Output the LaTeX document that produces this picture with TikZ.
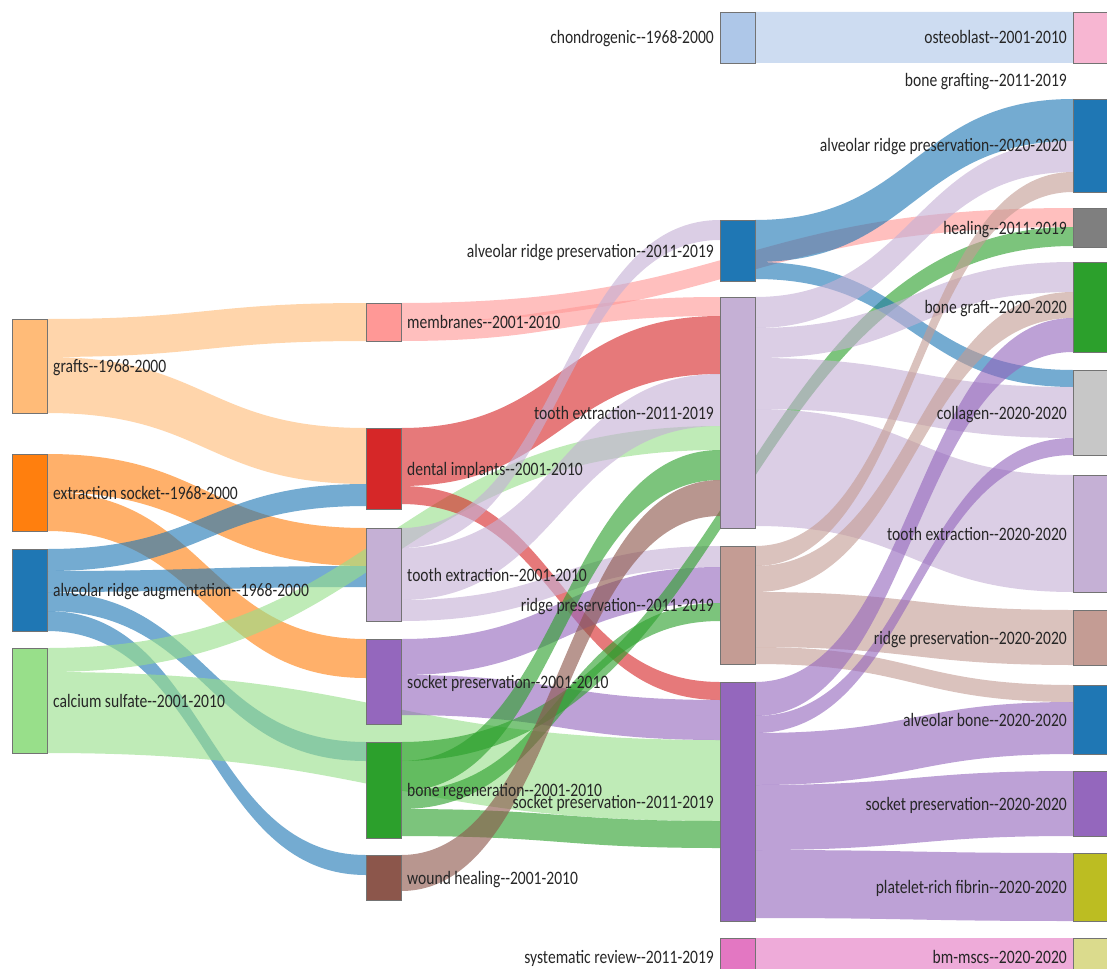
\documentclass[tikz,border=0pt]{standalone}
\usepackage{fontspec}
\newfontfamily\labfont{Carlito}[FakeStretch=0.82]
\usetikzlibrary{calc, positioning, backgrounds}

\definecolor{tabblue}{HTML}{1F77B4}
\definecolor{tablblue}{HTML}{AEC7E8}
\definecolor{taborange}{HTML}{FF7F0E}
\definecolor{tablorange}{HTML}{FFBB78}
\definecolor{tabgreen}{HTML}{2CA02C}
\definecolor{tablgreen}{HTML}{98DF8A}
\definecolor{tabred}{HTML}{D62728}
\definecolor{tablred}{HTML}{FF9896}
\definecolor{tabpurple}{HTML}{9467BD}
\definecolor{tablpurple}{HTML}{C5B0D5}
\definecolor{tabbrown}{HTML}{8C564B}
\definecolor{tablbrown}{HTML}{C49C94}
\definecolor{tabpink}{HTML}{E377C2}
\definecolor{tablpink}{HTML}{F7B6D2}
\definecolor{tabgray}{HTML}{7F7F7F}
\definecolor{tablgray}{HTML}{C7C7C7}
\definecolor{tabolive}{HTML}{BCBD22}
\definecolor{tablolive}{HTML}{DBDB8D}

\tikzset{
  box/.style={draw=black!55, line width=0.6pt, inner sep=0pt, outer sep=0pt,
              minimum width=35pt, anchor=north west},
  lab/.style={font=\labfont\fontsize{19}{19}\selectfont, text=black!85,
              inner sep=0pt, text height=13pt, text depth=0pt},
  ribbon/.style={fill=#1, fill opacity=0.62},
}

% ribbon: source, offset, target, offset, width, colour
\newcommand{\flow}[6]{%
  \coordinate (s) at ($(#1.north east)+(0,#2)$);
  \coordinate (t) at ($(#3.north west)+(0,#4)$);
  \coordinate (s2) at ($(s)+(0,#5)$);
  \coordinate (t2) at ($(t)+(0,#5)$);
  \coordinate (m) at ($(s)!0.5!(t)$);
  \fill[ribbon=#6] (s) .. controls (m|-s) and (m|-t) .. (t) -- (t2)
    .. controls (m|-t2) and (m|-s2) .. (s2) -- cycle;}

\begin{document}
\begin{tikzpicture}[x=1pt, y=-1pt]
  \useasboundingbox (0,0) rectangle (1107,968);

  % nodes, one column at a time
  \foreach \nm/\y/\h/\c in {grafts/319/94/tablorange, extsock/454/77/taborange,
      ridgeaug/549/82/tabblue, calcsulf/648/105/tablgreen}
    \node[box, fill=\c, minimum height=\h pt] (\nm) at (12,\y) {};
  \foreach \nm/\y/\h/\c in {membr/303/38/tablred, implants/428/81/tabred,
      toothA/528/93/tablpurple, socketA/639/85/tabpurple,
      boneregen/742/96/tabgreen, woundheal/855/45/tabbrown}
    \node[box, fill=\c, minimum height=\h pt] (\nm) at (366,\y) {};
  \foreach \nm/\y/\h/\c in {chondro/12/51/tablblue, ridgepresA/220/61/tabblue,
      toothB/297/231/tablpurple, ridgeB/546/118/tablbrown,
      socketB/682/239/tabpurple, sysrev/938/37/tabpink}
    \node[box, fill=\c, minimum height=\h pt] (\nm) at (720,\y) {};
  \foreach \nm/\y/\h/\c in {osteo/12/51/tablpink, ridgepresC/99/93/tabblue,
      healing/208/39/tabgray, bonegraft/262/90/tabgreen,
      collagen/370/85/tablgray, toothC/475/117/tablpurple,
      ridgeC/610/55/tablbrown, alvbone/685/69/tabblue,
      socketC/771/65/tabpurple, prf/853/68/tabolive, bmmscs/938/37/tablolive}
    \node[box, fill=\c, minimum height=\h pt] (\nm) at (1073,\y) {};

  \begin{scope}[on background layer]
    % first period out
    \flow{grafts}{0}{membr}{0}{38}{tablorange}
    \flow{grafts}{38}{implants}{0}{56}{tablorange}
    \flow{extsock}{0}{toothA}{0}{38}{taborange}
    \flow{extsock}{38}{socketA}{0}{39}{taborange}
    \flow{ridgeaug}{0}{implants}{56}{22}{tabblue}
    \flow{ridgeaug}{22}{toothA}{38}{21}{tabblue}
    \flow{ridgeaug}{43}{boneregen}{0}{19}{tabblue}
    \flow{ridgeaug}{62}{woundheal}{0}{20}{tabblue}
    \flow{calcsulf}{0}{toothB}{129}{24}{tablgreen}
    \flow{calcsulf}{24}{socketB}{58}{81}{tablgreen}
    % 2001-2010 out
    \flow{membr}{0}{healing}{0}{19}{tablred}
    \flow{membr}{19}{toothB}{0}{19}{tablred}
    \flow{implants}{0}{toothB}{19}{58}{tabred}
    \flow{implants}{58}{socketB}{0}{18}{tabred}
    \flow{toothA}{0}{ridgepresA}{0}{20}{tablpurple}
    \flow{toothA}{20}{toothB}{77}{52}{tablpurple}
    \flow{toothA}{72}{ridgeB}{0}{21}{tablpurple}
    \flow{socketA}{0}{ridgeB}{21}{36}{tabpurple}
    \flow{socketA}{36}{socketB}{18}{40}{tabpurple}
    \flow{boneregen}{0}{healing}{19}{19}{tabgreen}
    \flow{boneregen}{19}{toothB}{153}{30}{tabgreen}
    \flow{boneregen}{49}{ridgeB}{57}{18}{tabgreen}
    \flow{boneregen}{67}{socketB}{139}{27}{tabgreen}
    \flow{woundheal}{0}{toothB}{183}{36}{tabbrown}
    % 2011-2019 out
    \flow{chondro}{0}{osteo}{0}{51}{tablblue}
    \flow{ridgepresA}{0}{ridgepresC}{0}{42}{tabblue}
    \flow{ridgepresA}{42}{collagen}{0}{17}{tabblue}
    \flow{toothB}{0}{ridgepresC}{42}{31}{tablpurple}
    \flow{toothB}{31}{bonegraft}{0}{30}{tablpurple}
    \flow{toothB}{61}{collagen}{17}{51}{tablpurple}
    \flow{toothB}{112}{toothC}{0}{117}{tablpurple}
    \flow{ridgeB}{0}{ridgepresC}{73}{20}{tablbrown}
    \flow{ridgeB}{20}{bonegraft}{30}{26}{tablbrown}
    \flow{ridgeB}{46}{ridgeC}{0}{55}{tablbrown}
    \flow{ridgeB}{101}{alvbone}{0}{17}{tablbrown}
    \flow{socketB}{0}{bonegraft}{56}{34}{tabpurple}
    \flow{socketB}{34}{collagen}{68}{17}{tabpurple}
    \flow{socketB}{51}{alvbone}{17}{52}{tabpurple}
    \flow{socketB}{103}{socketC}{0}{65}{tabpurple}
    \flow{socketB}{168}{prf}{0}{68}{tabpurple}
    \flow{sysrev}{0}{bmmscs}{0}{37}{tabpink}
  \end{scope}

  % labels
  \foreach \nm/\txt in {grafts/{grafts-{}-1968-2000},
      extsock/{extraction socket-{}-1968-2000},
      ridgeaug/{alveolar ridge augmentation-{}-1968-2000},
      calcsulf/{calcium sulfate-{}-2001-2010},
      membr/{membranes-{}-2001-2010}, implants/{dental implants-{}-2001-2010},
      toothA/{tooth extraction-{}-2001-2010},
      socketA/{socket preservation-{}-2001-2010},
      boneregen/{bone regeneration-{}-2001-2010},
      woundheal/{wound healing-{}-2001-2010}}
    \node[lab, right=6pt of \nm] (\nm-t) {\txt};
  \foreach \nm/\txt in {chondro/{chondrogenic-{}-1968-2000},
      ridgepresA/{alveolar ridge preservation-{}-2011-2019},
      toothB/{tooth extraction-{}-2011-2019},
      ridgeB/{ridge preservation-{}-2011-2019},
      socketB/{socket preservation-{}-2011-2019},
      sysrev/{systematic review-{}-2011-2019},
      osteo/{osteoblast-{}-2001-2010},
      ridgepresC/{alveolar ridge preservation-{}-2020-2020},
      healing/{healing-{}-2011-2019}, bonegraft/{bone graft-{}-2020-2020},
      collagen/{collagen-{}-2020-2020}, toothC/{tooth extraction-{}-2020-2020},
      ridgeC/{ridge preservation-{}-2020-2020},
      alvbone/{alveolar bone-{}-2020-2020},
      socketC/{socket preservation-{}-2020-2020},
      prf/{platelet-rich fibrin-{}-2020-2020}, bmmscs/{bm-mscs-{}-2020-2020}}
    \node[lab, left=6pt of \nm] (\nm-t) {\txt};
  \node[lab, anchor=east] (bonegrafting-t) at (1067,80) {bone grafting-{}-2011-2019};
\end{tikzpicture}
\end{document}
